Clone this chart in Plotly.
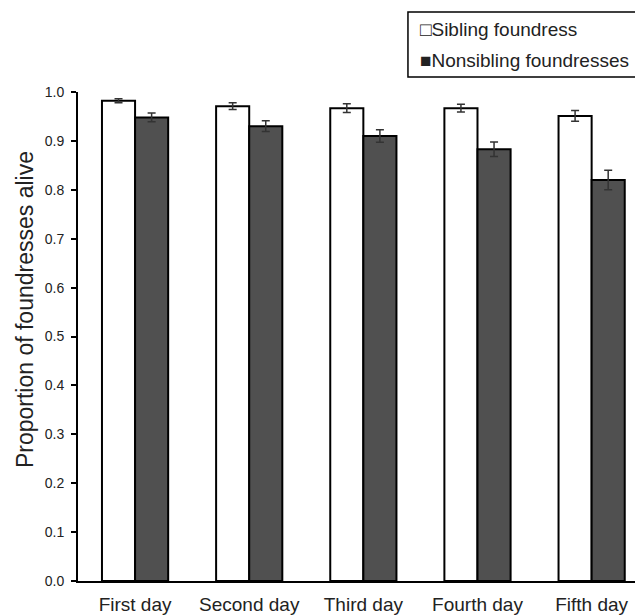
import plotly.graph_objects as go

categories = ["First day", "Second day", "Third day", "Fourth day", "Fifth day"]
series_names = ["Sibling foundress", "Nonsibling foundresses"]
series_symbols = ["\u25a1", "\u25a0"]
sibling = [0.982, 0.971, 0.967, 0.967, 0.951]
sibling_err = [0.004, 0.007, 0.009, 0.008, 0.011]
nonsibling = [0.948, 0.930, 0.910, 0.883, 0.820]
nonsibling_err = [0.009, 0.011, 0.013, 0.015, 0.020]
y_ticks = [0.0, 0.1, 0.2, 0.3, 0.4, 0.5, 0.6, 0.7, 0.8, 0.9, 1.0]
y_title = "Proportion of foundresses alive"

FONT = "Liberation Sans, Arial, sans-serif"
TXT = "#222222"

fig = go.Figure()
fig.add_trace(go.Bar(
    x=categories, y=sibling, name=series_names[0], showlegend=False,
    marker=dict(color="white", line=dict(color="black", width=2)),
    error_y=dict(type="data", array=sibling_err, color="#333333", thickness=1.5, width=4),
))
fig.add_trace(go.Bar(
    x=categories, y=nonsibling, name=series_names[1], showlegend=False,
    marker=dict(color="#505050", line=dict(color="black", width=2)),
    error_y=dict(type="data", array=nonsibling_err, color="#333333", thickness=1.5, width=4),
))

# legend box drawn as a framed block of text, like the reference
fig.add_shape(type="rect", xref="paper", yref="paper",
              x0=0.584, x1=1.02, y0=1.0307, y1=1.1636,
              line=dict(color="black", width=1.5), fillcolor="white", layer="above")
for name, sym, yy in zip(series_names, series_symbols, [1.1288, 1.0634]):
    fig.add_annotation(xref="paper", yref="paper", x=0.6018, y=yy,
                       xanchor="left", yanchor="middle", showarrow=False,
                       text=sym + name, font=dict(size=19, family=FONT, color=TXT))

# y-axis title (placed slightly above the axis centre, as in the reference)
fig.add_annotation(xref="paper", yref="paper", x=-0.0938, y=0.554,
                   xanchor="center", yanchor="middle", showarrow=False, textangle=-90,
                   text=y_title, font=dict(size=23, family=FONT, color=TXT))

# page body adds an 8px offset, so the figure is 8px smaller and margins shifted
fig.update_layout(
    width=635, height=607,
    margin=dict(l=70, r=0, t=84, b=34, autoexpand=False),
    paper_bgcolor="white", plot_bgcolor="white",
    barmode="group", bargap=0.42, bargroupgap=0,
    font=dict(family=FONT, color=TXT),
    showlegend=False,
    xaxis=dict(
        range=[-0.5, 4.45], showline=True, linecolor="black", linewidth=2,
        ticks="", showgrid=False, tickfont=dict(size=19), ticklabelstandoff=5,
    ),
    yaxis=dict(
        range=[0, 1.0], tickvals=y_ticks, ticktext=[f"{v:.1f}" for v in y_ticks],
        showline=True, linecolor="black", linewidth=2,
        ticks="outside", ticklen=5, tickwidth=1.5, tickcolor="black",
        showgrid=False, zeroline=False, tickfont=dict(size=14), ticklabelstandoff=4,
    ),
)

fig.write_html("out.html")
